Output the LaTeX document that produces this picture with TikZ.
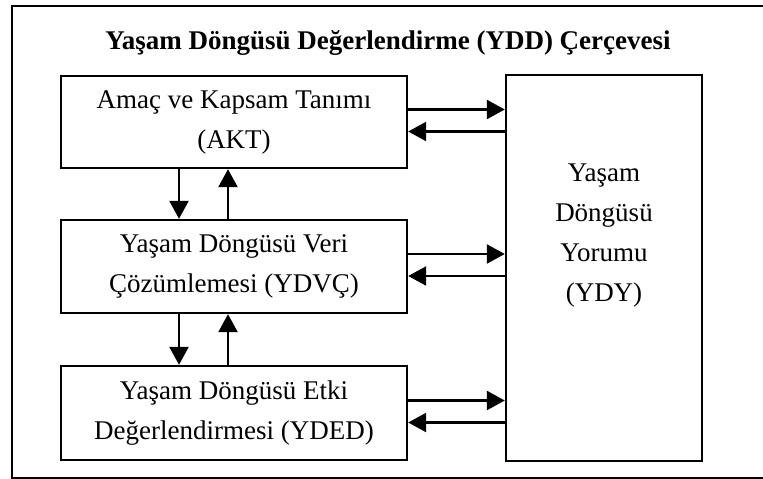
\documentclass[tikz,border=0pt]{standalone}
\usepackage{fontspec}
\setmainfont{Liberation Serif}
\usetikzlibrary{arrows.meta,calc}
\begin{document}
\begin{tikzpicture}[x=1pt,y=-1pt,
  txt/.style={align=center,font=\fontsize{27}{40}\selectfont},
  box/.style={draw,line width=2.4pt,rectangle,inner sep=0pt,txt},
  arr/.style={line width=2.4pt,-{Triangle[length=18pt,width=19pt]}}]
\useasboundingbox (0,0) rectangle (763,479);
\begin{scope}
\clip (0,0) rectangle (763,479);
\draw[line width=2.4pt] (12,6) rectangle (800,478);
\end{scope}
\node[font=\bfseries\fontsize{27}{30}\selectfont] (title) at (388,43) {Yaşam Döngüsü Değerlendirme (YDD) Çerçevesi};
\node[box,minimum width=346pt,minimum height=92pt] (akt) at (234,122) {Amaç ve Kapsam Tanımı\\(AKT)};
\node[box,minimum width=346pt,minimum height=93pt] (ydvc) at (234,266.5) {Yaşam Döngüsü Veri\\Çözümlemesi (YDVÇ)};
\node[box,minimum width=346pt,minimum height=94pt] (yded) at (234,413) {Yaşam Döngüsü Etki\\Değerlendirmesi (YDED)};
\node[box,minimum width=196pt,minimum height=386pt,
  label={[txt,yshift=32pt]center:Yaşam\\Döngüsü\\Yorumu\\(YDY)}] (ydy) at (604,268) {};
\foreach \n in {akt,ydvc,yded}{
  \draw[arr] ([yshift=12.5pt]\n.east) -- ([yshift=12.5pt]\n.east -| ydy.west);
  \draw[arr] ([yshift=-9.5pt]\n.east -| ydy.west) -- ([yshift=-9.5pt]\n.east);
}
\draw[arr] ([xshift=-55pt]akt.south) -- ([xshift=-55pt]akt.south |- ydvc.north);
\draw[arr] ([xshift=-6pt]akt.south |- ydvc.north) -- ([xshift=-6pt]akt.south);
\draw[arr] ([xshift=-55pt]ydvc.south) -- ([xshift=-55pt]ydvc.south |- yded.north);
\draw[arr] ([xshift=-6pt]ydvc.south |- yded.north) -- ([xshift=-6pt]ydvc.south);
\end{tikzpicture}
\end{document}
